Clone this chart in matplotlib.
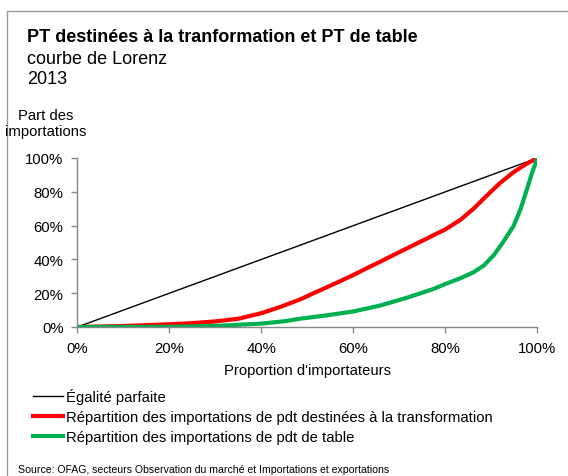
import matplotlib
matplotlib.use('Agg')
import matplotlib.pyplot as plt
from matplotlib.patches import Rectangle

plt.rcParams['font.family'] = ['Liberation Sans', 'DejaVu Sans']

# Données (en %)
egalite_x = [0, 100]
egalite_y = [0, 100]

transfo_x = [0, 10, 20, 25, 30, 35, 40, 44, 48.4, 51, 54.2, 57, 60, 62.9, 65.8, 68.7,
             71.6, 74.5, 77.4, 80, 83.2, 86.1, 89, 91.9, 94.8, 97.7, 100]
transfo_y = [0, 0.6, 1.6, 2.3, 3.3, 4.9, 8.2, 11.8, 16.3, 19.6, 23.5, 27.0, 30.8, 34.8, 38.6, 42.6,
             46.5, 50.4, 54.3, 57.8, 63.3, 70.0, 77.8, 85.3, 91.6, 96.7, 100]

table_x = [0, 20, 30, 40, 45, 48.4, 54.2, 60, 65.8, 71.6, 77.4, 80, 83.2, 86.1, 88.3,
           90.5, 92.6, 94.8, 96.3, 97.7, 98.8, 100]
table_y = [0, 0.1, 0.6, 2.0, 3.4, 4.9, 6.9, 9.2, 12.7, 17.3, 22.5, 25.5, 28.8, 32.4, 36.3,
           42.5, 50.5, 59.8, 69.6, 81.4, 91.2, 100]

x_ticks = [0, 20, 40, 60, 80, 100]
y_ticks = [0, 20, 40, 60, 80, 100]

GRIS = '#888888'

fig = plt.figure(figsize=(5.68, 4.77), dpi=100)
ax = fig.add_axes([0.1364, 0.3124, 0.8099, 0.3543])

ax.plot(egalite_x, egalite_y, color='black', lw=1.0, label='Égalité parfaite')
ax.plot(transfo_x, transfo_y, color='#FF0000', lw=3, solid_joinstyle='round',
        label='Répartition des importations de pdt destinées à la transformation')
ax.plot(table_x, table_y, color='#00B050', lw=3, solid_joinstyle='round',
        label='Répartition des importations de pdt de table')

ax.set_xlim(0, 100)
ax.set_ylim(0, 100)
ax.set_xticks(x_ticks)
ax.set_yticks(y_ticks)
ax.set_xticklabels([f'{v}%' for v in x_ticks])
ax.set_yticklabels([f'{v}%' for v in y_ticks])
ax.tick_params(axis='both', labelsize=10.7, color=GRIS, length=4, width=1)
ax.tick_params(axis='x', pad=6)
ax.tick_params(axis='y', pad=6)
for s in ['top', 'right']:
    ax.spines[s].set_visible(False)
for s in ['left', 'bottom']:
    ax.spines[s].set_color(GRIS)
    ax.spines[s].set_linewidth(1)

ax.set_xlabel("Proportion d'importateurs", fontsize=10.7, labelpad=6)

# Titres
fig.text(27 / 568, 1 - 38 / 477, 'PT destinées à la tranformation et PT de table',
         fontsize=13, fontweight='bold', va='center', ha='left')
fig.text(27 / 568, 1 - 59 / 477, 'courbe de Lorenz', fontsize=13, va='center', ha='left')
fig.text(27 / 568, 1 - 80 / 477, '2013', fontsize=13, va='center', ha='left')
fig.text(46 / 568, 1 - 124 / 477, 'Part des\nimportations', fontsize=10.7,
         va='center', ha='center', linespacing=1.15)

# Légende
fig.legend(loc='upper left', bbox_to_anchor=(33 / 568, 1 - 389 / 477),
           frameon=False, fontsize=10.7, handlelength=2.0, handletextpad=0.2,
           labelspacing=0.42, borderaxespad=0, borderpad=0)

fig.text(18 / 568, 1 - 470 / 477,
         'Source: OFAG, secteurs Observation du marché et Importations et exportations',
         fontsize=7.6, va='center', ha='left')

# Cadre
fig.patches.append(Rectangle((7 / 568, -0.1), 1.2, 1.1 - 12 / 477,
                             transform=fig.transFigure, fill=False,
                             edgecolor='#999999', lw=1, clip_on=False))

fig.savefig('out.png', dpi=100)
